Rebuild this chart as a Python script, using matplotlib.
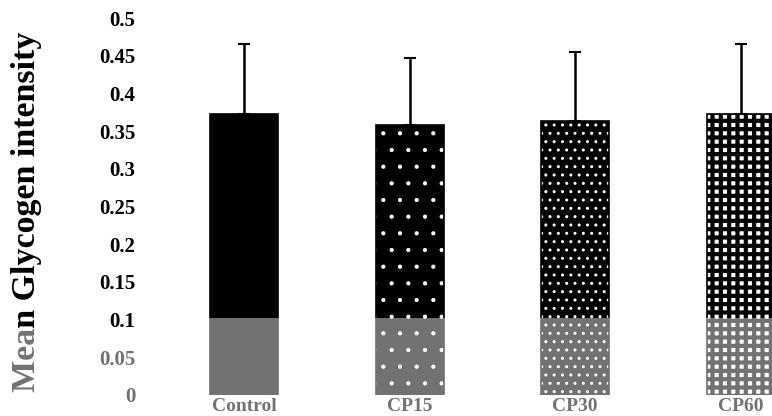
import matplotlib
matplotlib.use("Agg")
import matplotlib.pyplot as plt
from matplotlib.patches import Rectangle

# Mean glycogen intensity per group, with upper error (SD)
groups = ["Control", "CP15", "CP30", "CP60"]
means = [0.373, 0.358, 0.363, 0.373]
errors = [0.092, 0.089, 0.092, 0.092]
y_ticks = [0, 0.05, 0.1, 0.15, 0.2, 0.25, 0.3, 0.35, 0.4, 0.45, 0.5]
y_tick_labels = ["0", "0.05", "0.1", "0.15", "0.2", "0.25", "0.3", "0.35", "0.4", "0.45", "0.5"]

plt.rcParams["font.family"] = ["Liberation Serif", "DejaVu Serif"]

W, H = 772, 416
fig = plt.figure(figsize=(W / 100, H / 100), dpi=100)
left_px, right_px = 145, 772
bottom_px, top_px = 395, 18
ax = fig.add_axes([left_px / W, (H - bottom_px) / H,
                   (right_px - left_px) / W, (bottom_px - top_px) / H])

# bar fill styles: (face, hatch colour, hatch, hatch line width)
styles = [
    ("black", "black", None, 1.0),
    ("black", "white", ".", 0.6),
    ("black", "white", "..", 1.0),
    ("white", "black", "++", 3.0),
]

x = list(range(len(groups)))
for xi, m, (fc, hc, hatch, hlw) in zip(x, means, styles):
    with plt.rc_context({"hatch.linewidth": hlw}):
        bars = ax.bar(xi, m, width=0.41, color=fc, edgecolor=hc, hatch=hatch,
                      linewidth=0, zorder=2)
        for b in bars:
            if hasattr(b, "set_hatch_linewidth"):
                b.set_hatch_linewidth(hlw)
    ax.bar(xi, m, width=0.41, fill=False, edgecolor="black",
           linewidth=1.2, zorder=3)

ax.errorbar(x, means, yerr=[[0] * len(errors), errors], fmt="none",
            ecolor="black", elinewidth=1.8, capsize=4, capthick=1.5, zorder=4)

ax.set_xlim(-0.6, 3.19)
ax.set_ylim(0, 0.5)
ax.set_yticks(y_ticks)
ax.set_yticklabels(y_tick_labels, fontsize=15, fontweight="bold")
ax.set_xticks(x)
ax.set_xticklabels(groups, fontsize=14, fontweight="bold")
ax.tick_params(axis="x", length=0, pad=2)
ax.tick_params(axis="y", length=0, pad=7)
for s in ax.spines.values():
    s.set_visible(False)

# rotated axis title on the far left
fig.text(27 / W, 1 - 212 / H, "Mean Glycogen intensity", rotation=90,
         ha="center", va="center", fontsize=24.5, fontweight="bold")

# pale band over the lower part of the figure
fade_plot = Rectangle((left_px / W, 0), 1, (H - 318) / H, transform=fig.transFigure,
                      facecolor="white", edgecolor="none", alpha=0.45, zorder=10)
fade_side = Rectangle((0, 0), left_px / W, (H - 330) / H, transform=fig.transFigure,
                      facecolor="white", edgecolor="none", alpha=0.45, zorder=10)
fig.add_artist(fade_plot)
fig.add_artist(fade_side)

fig.savefig("out.png", dpi=100)
